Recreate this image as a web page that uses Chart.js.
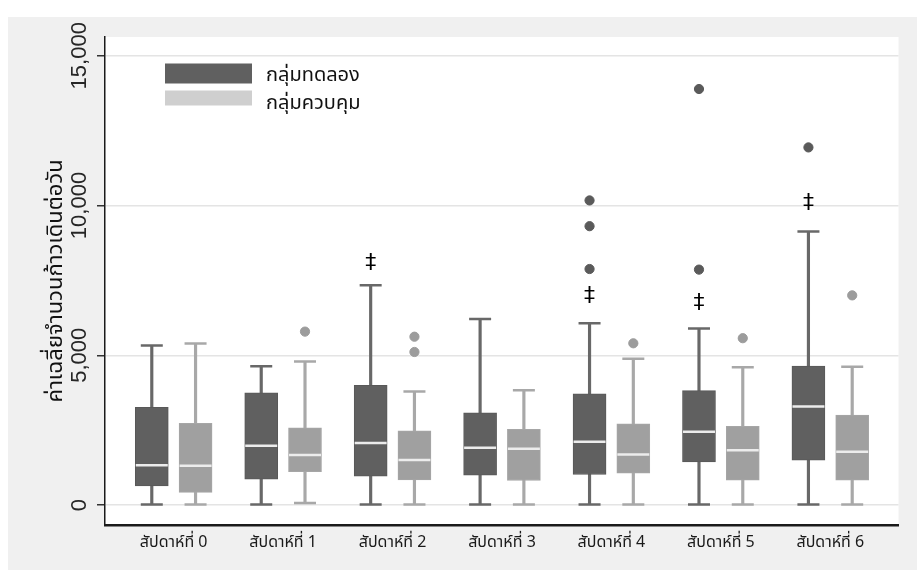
<!DOCTYPE html>
<html>
<head>
<meta charset="utf-8">
<script src="https://cdn.jsdelivr.net/npm/chart.js@4.4.1/dist/chart.umd.min.js"></script>
<style>
  html, body { margin: 0; padding: 0; background: #ffffff; }
  #wrap { width: 917px; height: 570px; position: relative; }
  canvas { display: block; }
</style>
</head>
<body>
<div id="wrap"><canvas id="chart" width="917" height="570"></canvas></div>
<script>
// Weekly mean daily step counts, experimental vs control group (box plots)
const weekLabels = ['สัปดาห์ที่ 0', 'สัปดาห์ที่ 1', 'สัปดาห์ที่ 2', 'สัปดาห์ที่ 3', 'สัปดาห์ที่ 4', 'สัปดาห์ที่ 5', 'สัปดาห์ที่ 6'];
const groupLabels = ['กลุ่มทดลอง', 'กลุ่มควบคุม'];
const yTitle = 'ค่าเฉลี่ยจำนวนก้าวเดินต่อวัน';
const yTickValues = [0, 5000, 10000, 15000];

// Experimental group
const expMin = [20, 20, 20, 20, 20, 20, 20];
const expQ1 = [640, 860, 960, 1000, 1020, 1440, 1500];
const expMedian = [1330, 1980, 2070, 1910, 2110, 2450, 3290];
const expQ3 = [3260, 3750, 4000, 3080, 3710, 3820, 4640];
const expMax = [5330, 4630, 7340, 6210, 6070, 5890, 9130];
const expOutlierWeeks = [4, 4, 4, 5, 5, 6];
const expOutlierValues = [10170, 9310, 7880, 7860, 13890, 11940];

// Control group
const ctlMin = [20, 70, 20, 20, 20, 20, 20];
const ctlQ1 = [420, 1110, 840, 820, 1060, 830, 830];
const ctlMedian = [1310, 1670, 1500, 1880, 1690, 1830, 1780];
const ctlQ3 = [2730, 2580, 2480, 2530, 2710, 2630, 3000];
const ctlMax = [5390, 4790, 3790, 3830, 4880, 4600, 4620];
const ctlOutlierWeeks = [1, 2, 2, 4, 5, 6];
const ctlOutlierValues = [5790, 5620, 5110, 5400, 5570, 7000];

// Significance marks (‡) above the experimental group
const markWeeks = [2, 4, 5, 6];
const markValues = [8080, 6970, 6720, 10060];

const SHIFT = 0.2;             // half distance between the two boxes of a week
const DARK = '#606060', DARK_LINE = '#686868', DARK_DOT = '#5a5a5a';
const LIGHT = '#a0a0a0', LIGHT_LINE = '#a8a8a8', LIGHT_DOT = '#9c9c9c', LIGHT_KEY = '#cfcfcf';
const FONT = 'Tahoma, "Noto Sans Thai", "Liberation Sans", Arial, sans-serif';

const pos = (i, side) => i + side * SHIFT;
const ranges = (lo, hi, side) => weekLabels.map((_, i) => ({ x: pos(i, side), y: [lo[i], hi[i]] }));
const pts = (vals, side) => weekLabels.map((_, i) => ({ x: pos(i, side), y: vals[i] }));
const caps = (lo, hi, side) => pts(lo, side).concat(pts(hi, side));
const outs = (weeks, vals, side) => weeks.map((w, k) => ({ x: pos(w, side), y: vals[k] }));

const datasets = [
  // whiskers
  { type: 'bar', label: 'whisker-exp', data: ranges(expMin, expMax, -1), backgroundColor: DARK_LINE, barThickness: 2.5, grouped: false, order: 6 },
  { type: 'bar', label: 'whisker-ctl', data: ranges(ctlMin, ctlMax, 1), backgroundColor: LIGHT_LINE, barThickness: 2.5, grouped: false, order: 6 },
  // whisker caps
  { type: 'scatter', label: 'cap-exp', data: caps(expMin, expMax, -1), pointStyle: 'line', radius: 11, borderColor: DARK_LINE, borderWidth: 2.5, order: 5 },
  { type: 'scatter', label: 'cap-ctl', data: caps(ctlMin, ctlMax, 1), pointStyle: 'line', radius: 11, borderColor: LIGHT_LINE, borderWidth: 2.5, order: 5 },
  // boxes (Q1 to Q3)
  { type: 'bar', label: groupLabels[0], data: ranges(expQ1, expQ3, -1), backgroundColor: DARK, borderColor: '#585858', borderWidth: 1, borderSkipped: false, barThickness: 33, grouped: false, order: 3 },
  { type: 'bar', label: groupLabels[1], data: ranges(ctlQ1, ctlQ3, 1), backgroundColor: LIGHT, borderColor: '#a6a6a6', borderWidth: 1, borderSkipped: false, barThickness: 33, grouped: false, order: 3 },
  // medians
  { type: 'scatter', label: 'median-exp', data: pts(expMedian, -1), pointStyle: 'line', radius: 16, borderColor: '#ececec', borderWidth: 2.5, order: 1 },
  { type: 'scatter', label: 'median-ctl', data: pts(ctlMedian, 1), pointStyle: 'line', radius: 16, borderColor: '#ececec', borderWidth: 2.5, order: 1 },
  // outliers
  { type: 'scatter', label: 'outlier-exp', data: outs(expOutlierWeeks, expOutlierValues, -1), pointStyle: 'circle', radius: 4.6, backgroundColor: DARK_DOT, borderColor: DARK_DOT, borderWidth: 1, order: 0 },
  { type: 'scatter', label: 'outlier-ctl', data: outs(ctlOutlierWeeks, ctlOutlierValues, 1), pointStyle: 'circle', radius: 4.6, backgroundColor: LIGHT_DOT, borderColor: LIGHT_DOT, borderWidth: 1, order: 0 }
];

const fmt = v => v.toLocaleString('en-US');

// Page frame, grey surround and white plotting area
const backdrop = {
  id: 'backdrop',
  beforeDraw(chart) {
    const { ctx, chartArea: a } = chart;
    ctx.save();
    ctx.fillStyle = '#ffffff';
    ctx.fillRect(0, 0, chart.width, chart.height);
    ctx.fillStyle = '#f0f0f0';
    ctx.fillRect(8, 17, chart.width - 8, chart.height - 17);
    ctx.fillStyle = '#ffffff';
    ctx.fillRect(a.left, a.top, a.right - a.left, a.bottom - a.top);
    ctx.restore();
  }
};

// Vertical y tick labels, significance marks and the key
const annotations = {
  id: 'annotations',
  afterDatasetsDraw(chart) {
    const { ctx, scales: { x, y } } = chart;
    ctx.save();
    ctx.fillStyle = '#000000';
    ctx.font = '22px "DejaVu Sans", sans-serif';
    ctx.textAlign = 'center';
    ctx.textBaseline = 'middle';
    markWeeks.forEach((w, k) => {
      ctx.fillText('‡', x.getPixelForValue(pos(w, -1)), y.getPixelForValue(markValues[k]));
    });
    ctx.restore();
  },
  afterDraw(chart) {
    const { ctx, scales: { y } } = chart;
    ctx.save();
    ctx.fillStyle = '#262626';
    ctx.font = '22px "Liberation Sans", Arial, sans-serif';
    ctx.textAlign = 'center';
    ctx.textBaseline = 'middle';
    y.ticks.forEach(t => {
      ctx.save();
      ctx.translate(80, y.getPixelForValue(t.value));
      ctx.rotate(-Math.PI / 2);
      ctx.fillText(fmt(t.value), 0, 0);
      ctx.restore();
    });
    // key
    const keys = [
      { label: groupLabels[0], color: DARK, box: [165, 63.5, 87, 20], ty: 77 },
      { label: groupLabels[1], color: LIGHT_KEY, box: [165, 90.5, 87, 15], ty: 105 }
    ];
    ctx.font = '20px ' + FONT;
    ctx.textAlign = 'left';
    keys.forEach(k => {
      ctx.fillStyle = k.color;
      ctx.fillRect(...k.box);
      ctx.fillStyle = '#111111';
      ctx.fillText(k.label, 266, k.ty);
    });
    ctx.restore();
  }
};

new Chart(document.getElementById('chart'), {
  type: 'bar',
  data: { datasets },
  options: {
    responsive: false,
    animation: false,
    devicePixelRatio: 1,
    layout: { padding: { top: 37, right: 9, left: 0, bottom: 0 } },
    plugins: { legend: { display: false }, tooltip: { enabled: false } },
    scales: {
      x: {
        type: 'linear',
        offset: false,
        min: -0.6275,
        max: 6.623,
        afterBuildTicks: s => { s.ticks = weekLabels.map((_, i) => ({ value: i })); },
        afterFit: s => { s.height = 45; },
        grid: { display: false, drawTicks: false, offset: false },
        border: { display: true, color: '#1a1a1a', width: 2.5 },
        ticks: {
          callback: v => weekLabels[v],
          font: { family: FONT, size: 16 },
          color: '#1a1a1a',
          padding: 9,
          maxRotation: 0,
          autoSkip: false
        }
      },
      y: {
        type: 'linear',
        min: -667,
        max: 15627,
        afterBuildTicks: s => { s.ticks = yTickValues.map(v => ({ value: v })); },
        afterFit: s => { s.width = 105; },
        grid: { color: '#e4e4e4', lineWidth: 1.5, tickLength: 8, tickColor: '#333333', tickWidth: 1.5 },
        border: { display: true, color: '#1a1a1a', width: 1.5 },
        ticks: { display: false },
        title: {
          display: true,
          text: yTitle,
          font: { family: FONT, size: 22 },
          color: '#111111',
          padding: { top: 44 }
        }
      }
    }
  },
  plugins: [backdrop, annotations]
});
</script>
</body>
</html>
